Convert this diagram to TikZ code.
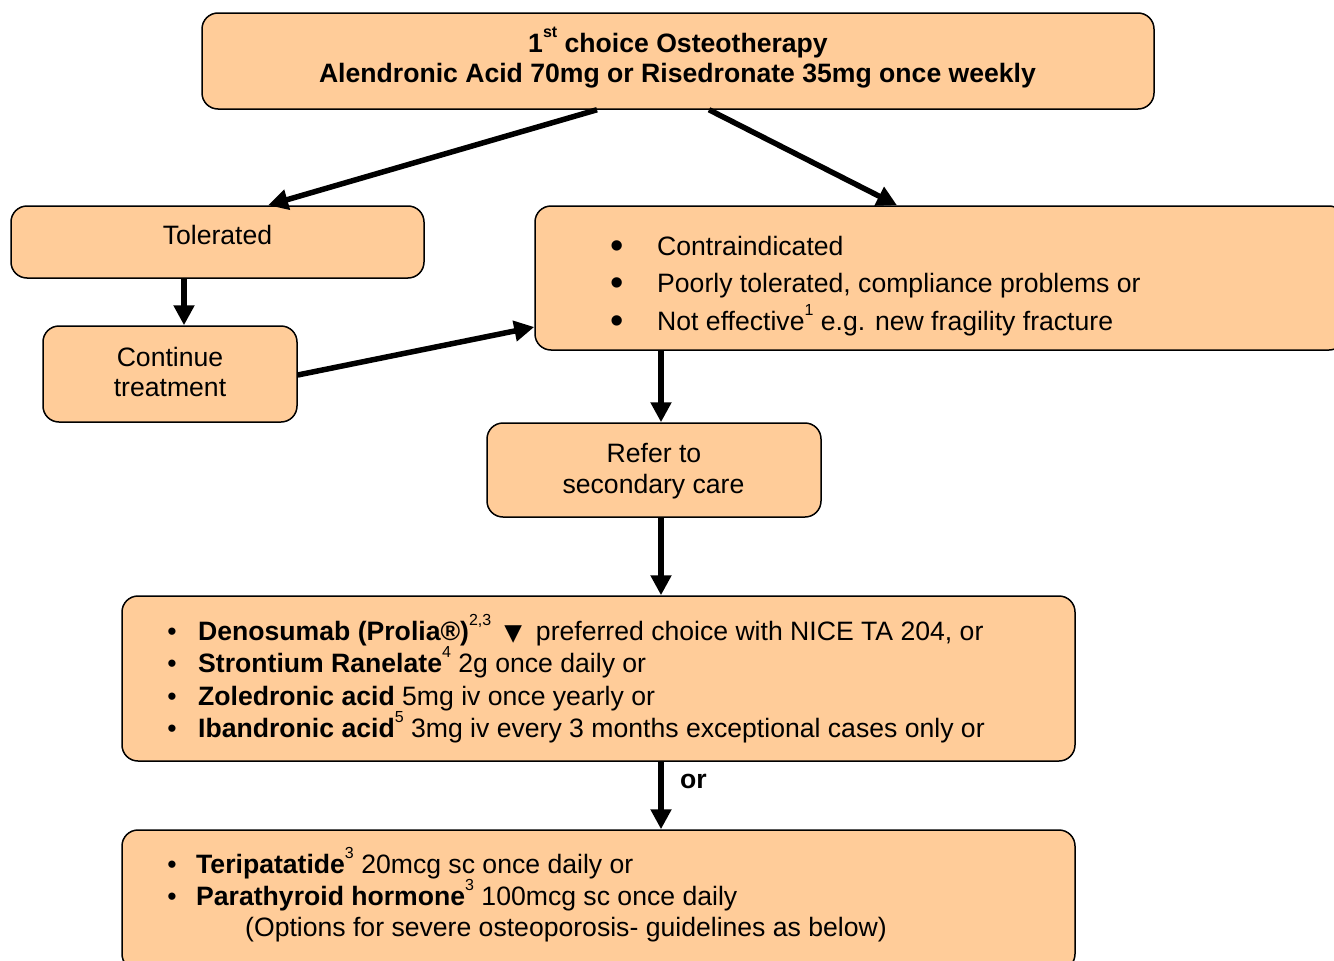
\documentclass[tikz,border=0pt]{standalone}
\usepackage{fontspec}
\setmainfont{Liberation Sans}
\newfontfamily\symfont{DejaVu Sans}
\usetikzlibrary{arrows.meta}
\definecolor{boxfill}{HTML}{FFCC99}
\newcommand\sups[1]{\raisebox{0.55em}{\fontsize{16}{16}\selectfont #1}}
\begin{document}
\begin{tikzpicture}[x=1pt,y=-1pt,
  box/.style={draw=black, line width=1.5pt, fill=boxfill, rounded corners=16pt, inner sep=0pt},
  arr/.style={line width=5.5pt, -{Triangle[length=20pt,width=20pt]}},
  txt/.style={inner sep=0pt, font=\fontsize{26.6}{32}\selectfont},
  ctxt/.style={txt, anchor=base},
  ltxt/.style={txt, anchor=base west},
  bul/.style={txt, anchor=base},
  bigbul/.style={inner sep=0pt, anchor=base, font=\fontsize{38}{38}\selectfont}]
\useasboundingbox (0,0) rectangle (1334,961);
\clip (0,0) rectangle (1334,961);
\fill[white] (0,0) rectangle (1334,961);
% boxes
\node[box, minimum width=952, minimum height=96] (top) at (678,61) {};
\node[box, minimum width=413, minimum height=72] (tol) at (217.5,242) {};
\node[box, minimum width=254, minimum height=96] (cont) at (170,374) {};
\node[box, minimum width=810, minimum height=144] (contra) at (940,278) {};
\node[box, minimum width=334, minimum height=94] (refer) at (654,470) {};
\node[box, minimum width=953, minimum height=165] (deno) at (598.5,678.5) {};
\node[box, minimum width=953, minimum height=140] (teri) at (598.5,900) {};
% texts
\node[ctxt] (t1) at (678,52) {\textbf{1\sups{st} choice Osteotherapy}};
\node[ctxt] (t2) at (677.5,82) {\textbf{Alendronic Acid 70mg or Risedronate 35mg once weekly}};
\node[ctxt] (tolt) at (217.5,244) {Tolerated};
\node[ctxt] (ct1) at (170,366) {Continue};
\node[ctxt] (ct2) at (170,396) {treatment};
\node[bigbul] (cb1) at (617,258) {\textbullet};
\node[bigbul] (cb2) at (617,295) {\textbullet};
\node[bigbul] (cb3) at (617,333) {\textbullet};
\node[ltxt] (c1) at (657,255) {Contraindicated};
\node[ltxt] (c2) at (657,292) {Poorly tolerated, compliance problems or};
\node[ltxt] (c3) at (657,330) {Not effective\sups{1} e.g. new fragility fracture};
\node[ctxt] (r1) at (654,462) {Refer to};
\node[ctxt] (r2) at (653.5,493) {secondary care};
\node[bul] (db1) at (172,640) {\textbullet};
\node[bul] (db2) at (172,672) {\textbullet};
\node[bul] (db3) at (172,705) {\textbullet};
\node[bul] (db4) at (172,737) {\textbullet};
\node[ltxt] (d1) at (198,640) {\textbf{Denosumab (Prolia®)}\sups{2,3}\hspace*{13pt}{\symfont\fontsize{23}{23}\selectfont ▼}\hspace*{14pt}preferred choice with NICE TA 204, or};
\node[ltxt] (d2) at (198,672) {\textbf{Strontium Ranelate}\sups{4} 2g once daily or};
\node[ltxt] (d3) at (198,705) {\textbf{Zoledronic acid} 5mg iv once yearly or};
\node[ltxt] (d4) at (198,737) {\textbf{Ibandronic acid}\sups{5} 3mg iv every 3 months exceptional cases only or};
\node[bul] (tb1) at (172,873) {\textbullet};
\node[bul] (tb2) at (172,905) {\textbullet};
\node[ltxt] (e1) at (196,873) {\textbf{Teripatatide}\sups{3} 20mcg sc once daily or};
\node[ltxt] (e2) at (196,905) {\textbf{Parathyroid hormone}\sups{3} 100mcg sc once daily};
\node[ltxt] (e3) at (245,936) {(Options for severe osteoporosis- guidelines as below)};
\node[ltxt] (or) at (680,788) {\textbf{or}};
% connectors
\draw[arr] (top.south -| 597,0) -- (tol.north -| 268,0);
\draw[arr] (top.south -| 709,0) -- (contra.north -| 897,0);
\draw[arr] (tol.south -| 184,0) -- (cont.north -| 184,0);
\draw[arr] (cont.east |- 0,375) -- (contra.west |- 0,327);
\draw[arr] (contra.south -| 661,0) -- (refer.north -| 661,0);
\draw[arr] (refer.south -| 661,0) -- (deno.north -| 661,0);
\draw[arr] (deno.south -| 661,0) -- (teri.north -| 661,0);
\end{tikzpicture}
\end{document}
